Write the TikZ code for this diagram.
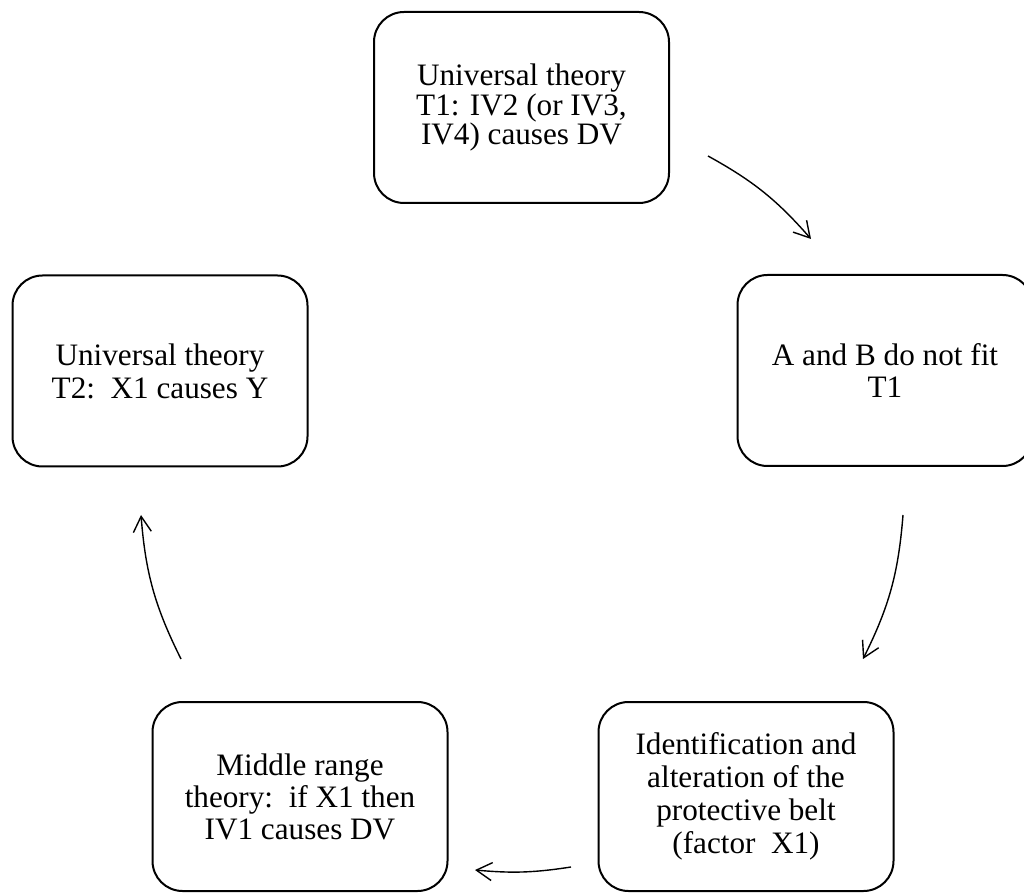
\documentclass[tikz,border=0pt]{standalone}
\usepackage{fontspec}
\setmainfont{Liberation Serif}
\usetikzlibrary{arrows.meta}
\begin{document}
\begin{tikzpicture}[x=0.5pt,y=-0.5pt,
  box/.style={draw, line width=1pt, rounded corners=15pt, minimum width=147.5pt,
    minimum height=95.5pt, align=center, inner sep=0pt},
  txta/.style={font=\fontsize{15.6}{14.6}\selectfont},
  txtb/.style={font=\fontsize{15.6}{16.4}\selectfont},
  txtc/.style={font=\fontsize{15.6}{16}\selectfont},
  txtd/.style={font=\fontsize{15.6}{16.6}\selectfont},
  cyc/.style={-{Straight Barb[length=7.8pt,width=9pt]}, line width=0.7pt}]
\clip (0,0) rectangle (1024,893);
\node[box,txta] (t1) at (521.5,107.5) {Universal theory\\T1: IV2 (or IV3,\\IV4) causes DV};
\node[box,txtb] (ab) at (885,370.5) {A and B do not fit\\T1};
\node[box,txtd,minimum height=94.5pt] (id) at (746,796.5) {Identification and\\alteration of the\\protective belt\\(factor\ \ X1)};
\node[box,txtc,minimum height=94.5pt] (mr) at (300,796.5) {Middle range\\theory:\ \ if X1 then\\IV1 causes DV};
\node[box,txtb] (t2) at (160,371) {Universal theory\\T2:\ \ X1 causes Y};
\coordinate (a1s) at (708,156);
\coordinate (a1e) at (811,239);
\coordinate (a2s) at (903,515);
\coordinate (a2e) at (863,659);
\coordinate (a3s) at (571,867);
\coordinate (a3e) at (475,870);
\coordinate (a4s) at (181,659);
\coordinate (a4e) at (141,515);
\draw[cyc] (a1s) to[bend left=10] (a1e);
\draw[cyc] (a2s) to[bend left=11] (a2e);
\draw[cyc] (a3s) to[bend left=7] (a3e);
\draw[cyc] (a4s) to[bend left=11] (a4e);
\end{tikzpicture}
\end{document}
